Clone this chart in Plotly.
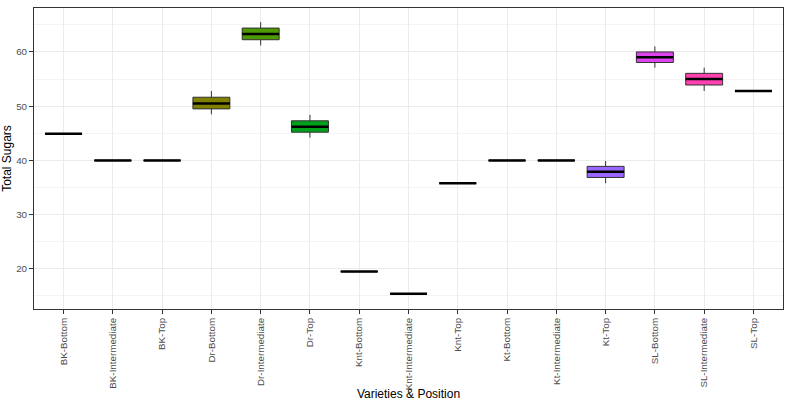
import plotly.graph_objects as go
import numpy as np

categories = ["BK-Bottom", "BK-Intermediate", "BK-Top", "Dr-Bottom", "Dr-Intermediate",
              "Dr-Top", "Knt-Bottom", "Knt-Intermediate", "Knt-Top", "Kt-Bottom",
              "Kt-Intermediate", "Kt-Top", "SL-Bottom", "SL-Intermediate", "SL-Top"]

values = [
    [44.9, 44.9, 44.9],
    [40.0, 40.0, 40.0],
    [40.0, 40.0, 40.0],
    [48.5, 50.5, 52.8],
    [61.2, 63.3, 65.5],
    [44.2, 46.2, 48.4],
    [19.5, 19.5, 19.5],
    [15.4, 15.4, 15.4],
    [35.8, 35.8, 35.8],
    [40.0, 40.0, 40.0],
    [40.0, 40.0, 40.0],
    [35.8, 37.9, 39.9],
    [57.1, 59.0, 61.0],
    [52.8, 55.0, 57.1],
    [52.8, 52.8, 52.8],
]

colors = ["#F8766D", "#E58700", "#C99800", "#7F8000", "#4C9A00",
          "#00A01C", "#00C0AF", "#00BCD8", "#00B0F6", "#619CFF",
          "#B983FF", "#9966FF", "#DD44EE", "#FF40B0", "#FF67A4"]

BOXW = 0.75
fig = go.Figure()
for i, (cat, vals, col) in enumerate(zip(categories, values, colors), start=1):
    fig.add_trace(go.Box(
        x=[i] * len(vals), y=vals, width=BOXW, fillcolor=col,
        line=dict(color="#333333", width=1), whiskerwidth=0,
        quartilemethod="inclusive",
        boxpoints=False, name=cat, showlegend=False, hoverinfo="y",
    ))
    med = float(np.median(vals))
    fig.add_trace(go.Scatter(
        x=[i - BOXW / 2, i + BOXW / 2], y=[med, med], mode="lines",
        line=dict(color="#000000", width=2.5), showlegend=False, hoverinfo="skip",
    ))

fig.update_layout(
    width=800, height=401,
    margin=dict(l=34, r=17, t=8, b=92),
    paper_bgcolor="white", plot_bgcolor="white",
    font=dict(family="Liberation Sans, Arial, sans-serif", color="#000000"),
    boxmode="overlay",
)
fig.update_xaxes(
    automargin=False,
    range=[0.4, 15.6], tickmode="array", tickvals=list(range(1, 16)), ticktext=categories,
    tickangle=-90, tickfont=dict(size=9.8, color="#4D4D4D"),
    ticks="outside", ticklen=4, tickcolor="#333333",
    showgrid=True, gridcolor="#EBEBEB", gridwidth=1.2,
    showline=True, linecolor="#333333", linewidth=1, mirror=True, zeroline=False,
    title=dict(text="Varieties & Position", font=dict(size=12), standoff=2),
)
fig.update_yaxes(
    automargin=False,
    range=[12.6, 68.1], tickvals=[20, 30, 40, 50, 60],
    tickfont=dict(size=9.8, color="#4D4D4D"),
    ticks="outside", ticklen=4, tickcolor="#333333",
    showgrid=True, gridcolor="#EBEBEB", gridwidth=1.2,
    minor=dict(tickvals=[15, 25, 35, 45, 55, 65], showgrid=True, gridcolor="#F4F4F4", gridwidth=0.8, ticks=""),
    showline=True, linecolor="#333333", linewidth=1, mirror=True, zeroline=False,
    title=dict(text="Total Sugars", font=dict(size=12), standoff=2),
)

fig.write_html("out.html", config={"displayModeBar": False},
               post_script="document.body.style.margin='0';")
